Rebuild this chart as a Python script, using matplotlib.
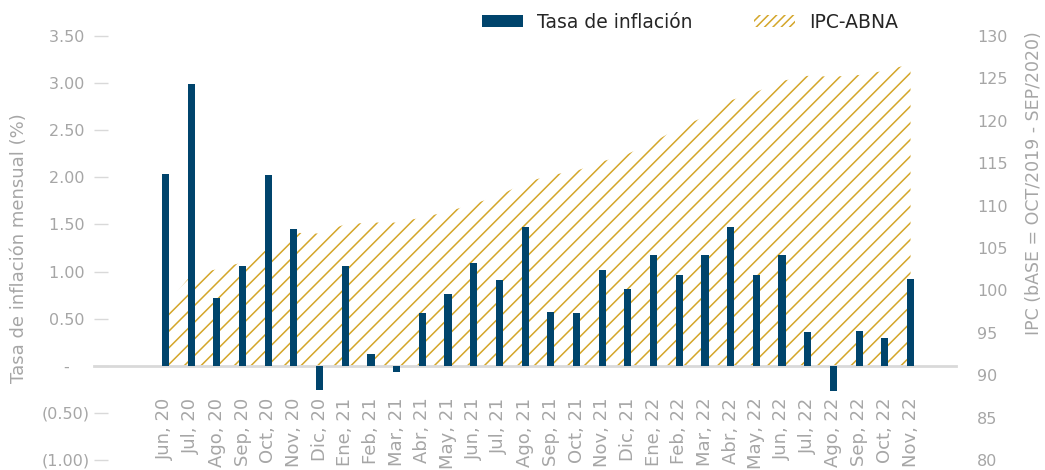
import matplotlib
matplotlib.use("Agg")
import matplotlib.pyplot as plt
from matplotlib.patches import Patch

# ---- data ----
months = ["Jun, 20", "Jul, 20", "Ago, 20", "Sep, 20", "Oct, 20", "Nov, 20", "Dic, 20",
          "Ene, 21", "Feb, 21", "Mar, 21", "Abr, 21", "May, 21", "Jun, 21", "Jul, 21",
          "Ago, 21", "Sep, 21", "Oct, 21", "Nov, 21", "Dic, 21", "Ene, 22", "Feb, 22",
          "Mar, 22", "Abr, 22", "May, 22", "Jun, 22", "Jul, 22", "Ago, 22", "Sep, 22",
          "Oct, 22", "Nov, 22"]
inflacion = [2.04, 2.99, 0.72, 1.06, 2.03, 1.45, -0.26, 1.06, 0.13, -0.07, 0.56, 0.76,
             1.09, 0.91, 1.47, 0.57, 0.56, 1.02, 0.81, 1.18, 0.96, 1.18, 1.47, 0.96,
             1.18, 0.36, -0.27, 0.37, 0.29, 0.92]
ipc_abna = [98.2, 101.8, 102.5, 103.3, 104.9, 106.8, 106.7, 107.8, 108.0, 108.0, 108.6,
            109.3, 110.2, 111.2, 112.7, 113.6, 114.1, 115.2, 116.1, 117.5, 119.2, 120.5,
            122.4, 123.4, 124.7, 125.3, 125.2, 125.4, 125.9, 126.7]
left_ticks = [-1.0, -0.5, 0.0, 0.5, 1.0, 1.5, 2.0, 2.5, 3.0, 3.5]
right_ticks = [80, 85, 90, 95, 100, 105, 110, 115, 120, 125, 130]

BLUE = "#00446C"
GOLD = "#D4A62A"
GRAY_TXT = "#A6A6A6"
GRAY_LN = "#D9D9D9"

plt.rcParams["font.family"] = ["DejaVu Sans"]
plt.rcParams["hatch.linewidth"] = 1.1

fig = plt.figure(figsize=(10.45, 4.70), dpi=100)
ax = fig.add_axes([94 / 1045, 10 / 470, (956 - 94) / 1045, (460 - 36) / 470])
ax2 = ax.twinx()

x = list(range(len(months)))
ax.set_xlim(-2.78, 30.77)
ax.set_ylim(-1.0, 3.5)
ax2.set_ylim(80, 130)

# area on secondary axis, filled down to the primary zero line
lo1, hi1 = ax.get_ylim()
lo2, hi2 = ax2.get_ylim()
base = lo2 + (0 - lo1) / (hi1 - lo1) * (hi2 - lo2)
ax2.fill_between(x, ipc_abna, base, facecolor="none", edgecolor=GOLD,
                 hatch="//", linewidth=0)

# bars on primary axis, drawn above the area
ax.set_zorder(ax2.get_zorder() + 1)
ax.patch.set_visible(False)
ax.bar(x, inflacion, width=0.28, color=BLUE, zorder=3)

# spines
for s in ["top", "right", "left"]:
    ax.spines[s].set_visible(False)
for s in ["top", "right", "left", "bottom"]:
    ax2.spines[s].set_visible(False)
ax.spines["bottom"].set_position(("data", 0))
ax.spines["bottom"].set_color(GRAY_LN)
ax.spines["bottom"].set_linewidth(2)
ax.spines["bottom"].set_zorder(2)

# x ticks
ax.set_xticks(x)
ax.set_xticklabels(months, rotation=90, fontsize=13, color=GRAY_TXT)
ax.tick_params(axis="x", length=0, pad=23)


def fmt_left(v):
    if abs(v) < 1e-9:
        return "-    "
    if v < 0:
        return "({:.2f})".format(-v)
    return "{:.2f} ".format(v)


ax.set_yticks(left_ticks)
ax.set_yticklabels([fmt_left(v) for v in left_ticks], fontsize=11.5, color=GRAY_TXT)
ax.tick_params(axis="y", direction="in", length=10, width=1, color=GRAY_LN, pad=3)

ax2.set_yticks(right_ticks)
ax2.set_yticklabels([str(v) for v in right_ticks], fontsize=11.5, color=GRAY_TXT)
ax2.tick_params(axis="y", length=0, pad=15)

ax.set_ylabel("Tasa de inflación mensual (%)", fontsize=13, color=GRAY_TXT)
ax.yaxis.set_label_coords(-66 / 862, 0.5)
ax2.set_ylabel("IPC (bASE = OCT/2019 - SEP/2020)", fontsize=12.5, color=GRAY_TXT,
               rotation=90)
ax2.yaxis.set_label_coords(1 + (1025 - 956) / 862, 0.653)

handles = [Patch(facecolor=BLUE, edgecolor="none", label="Tasa de inflación"),
           Patch(facecolor="none", edgecolor=GOLD, hatch="////", linewidth=0, label="IPC-ABNA")]
fig.legend(handles=handles, loc="center", bbox_to_anchor=(690 / 1045, 1 - 22 / 470),
           ncol=2, frameon=False, fontsize=13.5, handlelength=2.2, handleheight=0.62,
           handletextpad=0.75, columnspacing=3.3, labelcolor="#262626")

fig.savefig("out.png", dpi=100)
